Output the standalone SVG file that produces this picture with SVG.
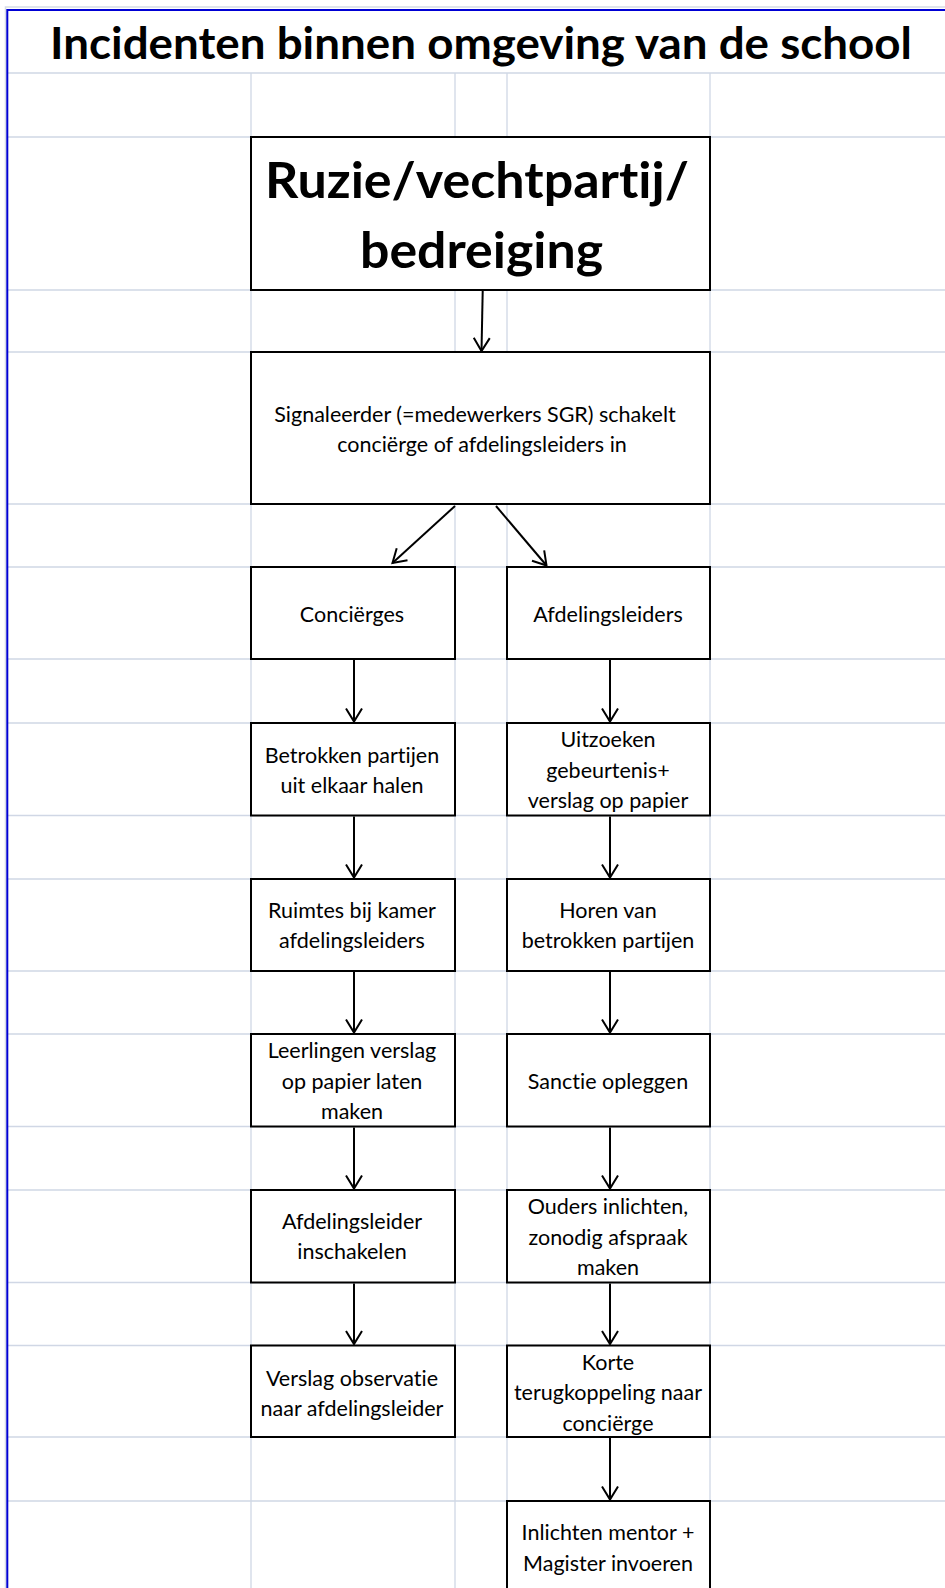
<svg xmlns="http://www.w3.org/2000/svg" width="945" height="1588" viewBox="0 0 945 1588">
<defs>
<style>
.grid{stroke:#D0D7E5;stroke-width:1.3;fill:none}
.box{fill:#FFFFFF;stroke:#000000;stroke-width:2}
.t{font-family:Lato,"Liberation Sans",sans-serif;font-size:21.5px;fill:#000000;text-anchor:middle;font-variant-ligatures:none}
.big{font-family:Lato,"Liberation Sans",sans-serif;font-weight:bold;fill:#000000;text-anchor:middle;font-variant-ligatures:none}
.con{stroke:#000000;stroke-width:2;fill:none}
</style>
<marker id="arr" viewBox="-15 -10 17 20" refX="0" refY="0" markerWidth="17" markerHeight="20" markerUnits="userSpaceOnUse" orient="auto">
<path d="M-13,-8 L0,0 L-13,8" fill="none" stroke="#000000" stroke-width="2"/>
</marker>
</defs>
<rect x="0" y="0" width="945" height="1588" fill="#FFFFFF"/>
<path d="M5.5,1588 V7 H945" fill="none" stroke="#D5DBE5" stroke-width="1.5"/>
<g id="grid" class="grid">
<path d="M7,73H945M7,137H945M7,290H945M7,352H945M7,504H945M7,567H945M7,659H945M7,723H945M7,815.5H945M7,879H945M7,971H945M7,1034H945M7,1126.5H945M7,1190H945M7,1282.5H945M7,1345.5H945M7,1437H945M7,1501H945"/>
<path d="M251,73V1588M455,73V1588M507,73V1588M710,73V1588"/>
</g>
<path d="M7.3,1588 V10 H945" fill="none" stroke="#0000D4" stroke-width="2"/>
<g id="title">
<text class="big" x="481" y="59" font-size="43" textLength="862" lengthAdjust="spacingAndGlyphs">Incidenten binnen omgeving van de school</text>
</g>
<g id="n-ruzie">
<rect class="box" x="251" y="137" width="459" height="153"/>
<text class="big" x="477" y="198" font-size="49" textLength="424" lengthAdjust="spacingAndGlyphs">Ruzie/vechtpartij/</text>
<text class="big" x="481.5" y="268" font-size="49" textLength="243" lengthAdjust="spacingAndGlyphs">bedreiging</text>
</g>
<g id="n-signaleerder">
<rect class="box" x="251" y="352" width="459" height="152"/>
<text class="t" x="475" y="421.7">Signaleerder (=medewerkers SGR) schakelt</text>
<text class="t" x="482" y="451.7">conciërge of afdelingsleiders in</text>
</g>
<g id="n-concierges">
<rect class="box" x="251" y="567" width="204" height="92"/>
<text class="t" x="352" y="622">Conciërges</text>
</g>
<g id="n-afdelingsleiders">
<rect class="box" x="507" y="567" width="203" height="92"/>
<text class="t" x="608" y="622">Afdelingsleiders</text>
</g>
<g id="n-betrokken">
<rect class="box" x="251" y="723" width="204" height="92.5"/>
<text class="t" x="352" y="763.3">Betrokken partijen</text>
<text class="t" x="352" y="793.3">uit elkaar halen</text>
</g>
<g id="n-uitzoeken">
<rect class="box" x="507" y="723" width="203" height="92.5"/>
<text class="t" x="608" y="747">Uitzoeken</text>
<text class="t" x="608" y="777.5">gebeurtenis+</text>
<text class="t" x="608" y="808">verslag op papier</text>
</g>
<g id="n-ruimtes">
<rect class="box" x="251" y="879" width="204" height="92"/>
<text class="t" x="352" y="918.3">Ruimtes bij kamer</text>
<text class="t" x="352" y="948.3">afdelingsleiders</text>
</g>
<g id="n-horen">
<rect class="box" x="507" y="879" width="203" height="92"/>
<text class="t" x="608" y="918.3">Horen van</text>
<text class="t" x="608" y="948.3">betrokken partijen</text>
</g>
<g id="n-leerlingen">
<rect class="box" x="251" y="1034" width="204" height="92.5"/>
<text class="t" x="352" y="1058.3">Leerlingen verslag</text>
<text class="t" x="352" y="1088.5">op papier laten</text>
<text class="t" x="352" y="1119">maken</text>
</g>
<g id="n-sanctie">
<rect class="box" x="507" y="1034" width="203" height="92.5"/>
<text class="t" x="608" y="1089">Sanctie opleggen</text>
</g>
<g id="n-afdelingsleider">
<rect class="box" x="251" y="1190" width="204" height="92.5"/>
<text class="t" x="352" y="1229.3">Afdelingsleider</text>
<text class="t" x="352" y="1259.3">inschakelen</text>
</g>
<g id="n-ouders">
<rect class="box" x="507" y="1190" width="203" height="92.5"/>
<text class="t" x="608" y="1213.5">Ouders inlichten,</text>
<text class="t" x="608" y="1244.5">zonodig afspraak</text>
<text class="t" x="608" y="1275">maken</text>
</g>
<g id="n-verslag">
<rect class="box" x="251" y="1345.5" width="204" height="91.5"/>
<text class="t" x="352" y="1385.5">Verslag observatie</text>
<text class="t" x="352" y="1415.5">naar afdelingsleider</text>
</g>
<g id="n-korte">
<rect class="box" x="507" y="1345.5" width="203" height="91.5"/>
<text class="t" x="608" y="1369.5">Korte</text>
<text class="t" x="608" y="1400">terugkoppeling naar</text>
<text class="t" x="608" y="1430.5">conciërge</text>
</g>
<g id="n-inlichten">
<rect class="box" x="507" y="1501" width="203" height="100"/>
<text class="t" x="608" y="1540">Inlichten mentor +</text>
<text class="t" x="608" y="1570.5">Magister invoeren</text>
</g>
<g id="connectors" class="con">
<path d="M482.7,291 L481.5,351" marker-end="url(#arr)"/>
<path d="M455,506 L392.5,563" marker-end="url(#arr)"/>
<path d="M496,506 L546.5,565.5" marker-end="url(#arr)"/>
<path d="M354,660 V721.5" marker-end="url(#arr)"/>
<path d="M354,816.5 V877.5" marker-end="url(#arr)"/>
<path d="M354,972 V1032.5" marker-end="url(#arr)"/>
<path d="M354,1127.5 V1188.5" marker-end="url(#arr)"/>
<path d="M354,1283.5 V1344" marker-end="url(#arr)"/>
<path d="M610,660 V721.5" marker-end="url(#arr)"/>
<path d="M610,816.5 V877.5" marker-end="url(#arr)"/>
<path d="M610,972 V1032.5" marker-end="url(#arr)"/>
<path d="M610,1127.5 V1188.5" marker-end="url(#arr)"/>
<path d="M610,1283.5 V1344" marker-end="url(#arr)"/>
<path d="M610,1438 V1499.5" marker-end="url(#arr)"/>
</g>
</svg>
